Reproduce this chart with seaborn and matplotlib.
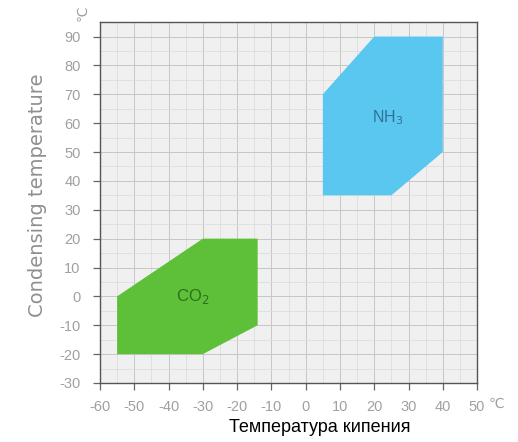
import matplotlib
matplotlib.use("Agg")
import matplotlib.pyplot as plt
import seaborn as sns
import pandas as pd
from matplotlib.ticker import MultipleLocator

# polygon outlines (evaporating temp, condensing temp)
co2_x = [-55, -55, -30, -14, -14, -30]
co2_y = [-20, 0, 20, 20, -10, -20]
nh3_x = [5, 5, 20, 40, 40, 25]
nh3_y = [35, 70, 90, 90, 50, 35]

x_ticks = [-60, -50, -40, -30, -20, -10, 0, 10, 20, 30, 40, 50]
y_ticks = [-30, -20, -10, 0, 10, 20, 30, 40, 50, 60, 70, 80, 90]

df = pd.concat([
    pd.DataFrame({"x": co2_x, "y": co2_y, "gas": "CO2"}),
    pd.DataFrame({"x": nh3_x, "y": nh3_y, "gas": "NH3"}),
])
colors = {"CO2": "#5ec038", "NH3": "#5ac7f0"}
text_colors = {"CO2": "#2e6f1c", "NH3": "#2f7292"}

sns.set_style("whitegrid")
plt.rcParams['font.family'] = ['Liberation Sans', 'DejaVu Sans']
plt.rcParams['axes.unicode_minus'] = False

fig = plt.figure(figsize=(5.18, 4.42), dpi=100)
ax = fig.add_axes([0.193, 0.1335, 0.728, 0.8165])
ax.set_facecolor("#f0f0f0")

for gas, g in df.groupby("gas"):
    ax.fill(g["x"], g["y"], color=colors[gas], lw=0, zorder=2)

ax.text(-33, 0, "CO$_2$", color=text_colors["CO2"], fontsize=12, ha="center", va="center", zorder=3)
ax.text(24, 62, "NH$_3$", color=text_colors["NH3"], fontsize=11.5, ha="center", va="center", zorder=3)

ax.set_xlim(-60, 50)
ax.set_ylim(-30, 95)
ax.set_xticks(x_ticks)
ax.set_yticks(y_ticks)
ax.xaxis.set_minor_locator(MultipleLocator(5))
ax.yaxis.set_minor_locator(MultipleLocator(5))
ax.grid(which="major", color="#c6c6c6", lw=0.7, zorder=0)
ax.grid(which="minor", color="#dddddd", lw=0.6, zorder=0)
ax.set_axisbelow(True)

for s in ax.spines.values():
    s.set_visible(True)
    s.set_color("#555555")
    s.set_linewidth(1.0)

ax.tick_params(axis="both", which="major", direction="out", length=5, width=0.9,
               color="#666666", labelcolor="#a0a0a0", labelsize=10.5,
               bottom=True, left=True)
ax.tick_params(axis="y", pad=9)
ax.tick_params(axis="x", pad=7)
ax.tick_params(which="minor", length=0)

ax.set_ylabel("Condensing temperature", color="#8f8f8f", fontsize=14,
              family=["DejaVu Sans"])
ax.yaxis.set_label_coords(-0.14, 0.52)

fig.text(320 / 518, 1 - 428 / 442, "Температура кипения", color="black", fontsize=13,
         ha="center", va="center")

fig.text(82 / 518, 1 - 13 / 442, "℃", color="#a0a0a0", fontsize=10,
         rotation=90, ha="center", va="center")
fig.text(496 / 518, 1 - 404 / 442, "℃", color="#a0a0a0", fontsize=10,
         ha="center", va="center")

fig.savefig("out.png", dpi=100)
